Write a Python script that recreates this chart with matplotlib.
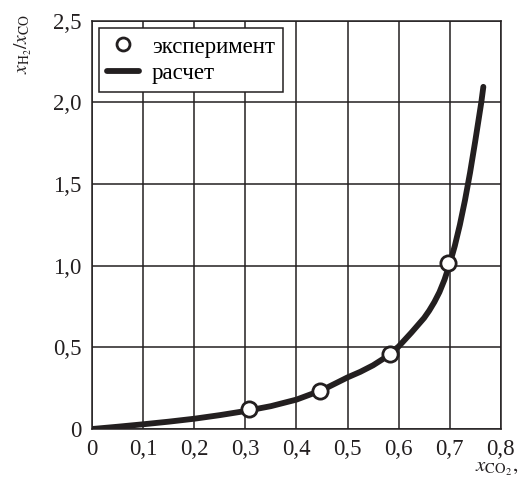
import numpy as np
import matplotlib
matplotlib.use("Agg")
from matplotlib import pyplot as plt
from matplotlib.ticker import FixedLocator, FixedFormatter

plt.rcParams['font.family'] = ['Liberation Serif', 'DejaVu Serif']
plt.rcParams['mathtext.fontset'] = 'stix'

# experiment points
x_exp = [0.307, 0.446, 0.584, 0.697]
y_exp = [0.12, 0.234, 0.457, 1.015]

# calculated curve
x_calc = [0.0, 0.05, 0.1, 0.15, 0.2, 0.25, 0.3, 0.35, 0.4, 0.45, 0.5, 0.525,
          0.55, 0.575, 0.6, 0.625, 0.65, 0.66, 0.67, 0.68, 0.69, 0.7, 0.71,
          0.72, 0.73, 0.74, 0.75, 0.756, 0.762, 0.766]
y_calc = [0.0, 0.014, 0.029, 0.045, 0.063, 0.085, 0.11, 0.14, 0.18, 0.238,
          0.316, 0.35, 0.39, 0.44, 0.505, 0.59, 0.68, 0.725, 0.777, 0.838,
          0.915, 1.01, 1.12, 1.25, 1.40, 1.57, 1.76, 1.88, 2.0, 2.095]

x_ticks = [0, 0.1, 0.2, 0.3, 0.4, 0.5, 0.6, 0.7, 0.8]
x_labels = ['0', '0,1', '0,2', '0,3', '0,4', '0,5', '0,6', '0,7', '0,8']
y_ticks = [0, 0.5, 1.0, 1.5, 2.0, 2.5]
y_labels = ['0', '0,5', '1,0', '1,5', '2,0', '2,5']

fig = plt.figure(figsize=(5.21, 4.82), dpi=100)
ax = fig.add_axes([92.3 / 521, 1 - 429 / 482, (500.7 - 92.3) / 521, (429 - 20.7) / 482])

ax.plot(x_calc, y_calc, color='#231f20', lw=4.2, solid_capstyle='round',
        solid_joinstyle='round', label='расчет', zorder=3)
ax.plot(x_exp, y_exp, 'o', ms=11, mfc='white', mec='#231f20', mew=2,
        label='эксперимент', zorder=4)

ax.set_xlim(0, 0.8)
ax.set_ylim(0, 2.5)
ax.xaxis.set_major_locator(FixedLocator(x_ticks))
ax.xaxis.set_major_formatter(FixedFormatter(x_labels))
ax.yaxis.set_major_locator(FixedLocator(y_ticks))
ax.yaxis.set_major_formatter(FixedFormatter(y_labels))
ax.tick_params(length=0, labelsize=16.5, colors='#231f20')
ax.tick_params(axis='y', pad=8)
ax.tick_params(axis='x', pad=7)
ax.grid(True, color='#231f20', lw=1.1)
for s in ax.spines.values():
    s.set_color('#231f20')
    s.set_linewidth(1.1)

h, l = ax.get_legend_handles_labels()
leg = ax.legend(h[::-1], l[::-1], loc='upper left', bbox_to_anchor=(0.017, 0.981),
                fontsize=16.5, frameon=True, fancybox=False, edgecolor='#231f20',
                framealpha=1, handlelength=1.4, handletextpad=0.55, markerscale=0.85,
                borderpad=0.35, labelspacing=0.25, borderaxespad=0)
leg.get_frame().set_linewidth(1.1)

fig.text(23 / 521, 1 - 44 / 482, r'$x_{\mathrm{H_2}}/x_{\mathrm{CO}}$', rotation=90,
         ha='center', va='center', fontsize=14, color='#231f20')
fig.text(518 / 521, 1 - 468 / 482, r'$x_{\mathrm{CO_2}},$', ha='right', va='center',
         fontsize=15, color='#231f20')

fig.savefig('out.png', dpi=100)
